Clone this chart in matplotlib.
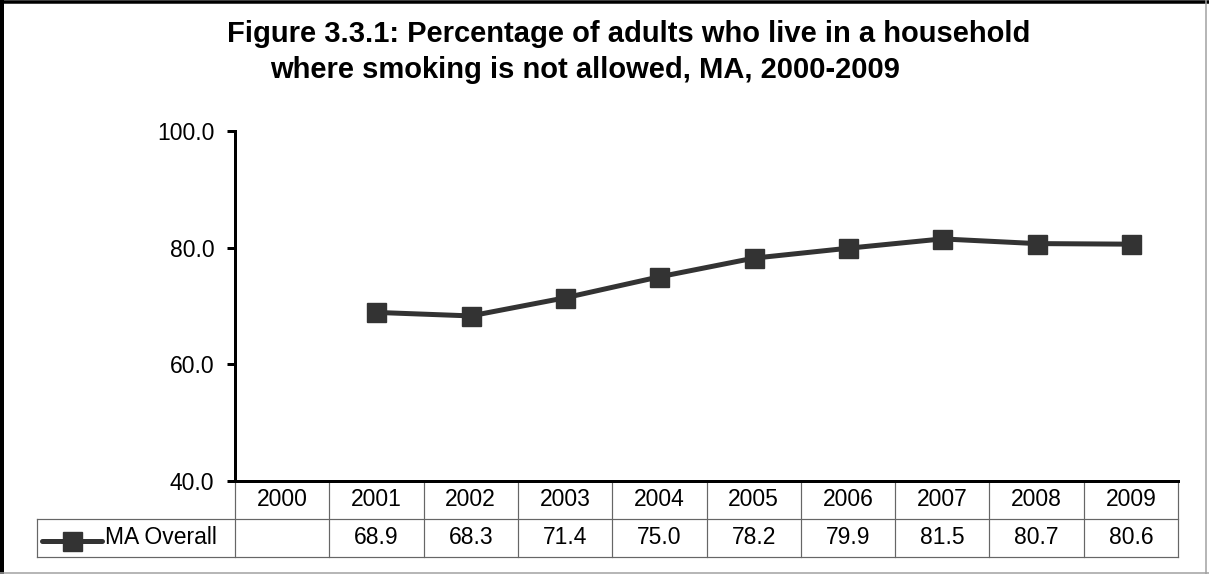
import matplotlib
matplotlib.use("Agg")
import matplotlib.pyplot as plt
from matplotlib.lines import Line2D
from matplotlib.transforms import blended_transform_factory

plt.rcParams['font.family'] = ['Liberation Sans', 'DejaVu Sans']

# Data
years = ["2000", "2001", "2002", "2003", "2004", "2005", "2006", "2007", "2008", "2009"]
ma_overall = [None, 68.9, 68.3, 71.4, 75.0, 78.2, 79.9, 81.5, 80.7, 80.6]
series_name = "MA Overall"
y_ticks = [40.0, 60.0, 80.0, 100.0]
title_line1 = "Figure 3.3.1: Percentage of adults who live in a household"
title_line2 = "where smoking is not allowed, MA, 2000-2009"

W, H = 1209, 574
fig = plt.figure(figsize=(W / 100, H / 100), dpi=100)
px = 72 / 100  # points per pixel

ax = fig.add_axes([235 / W, 1 - 481 / H, 943 / W, 350 / H])
ax.set_xlim(-0.5, len(years) - 0.5)
ax.set_ylim(40, 100)

for s in ("top", "right"):
    ax.spines[s].set_visible(False)
for s in ("left", "bottom"):
    ax.spines[s].set_linewidth(3 * px)
    ax.spines[s].set_color("black")

ax.set_yticks(y_ticks)
ax.set_yticklabels([f"{v:.1f}" for v in y_ticks])
ax.tick_params(axis="y", length=8 * px, width=3 * px, direction="out",
               pad=9, labelsize=16.5, colors="black")
ax.set_xticks([])

line_color = "#333333"
xs = [i for i, v in enumerate(ma_overall) if v is not None]
ys = [v for v in ma_overall if v is not None]
ax.plot(xs, ys, color=line_color, lw=5 * px, marker="s", ms=19 * px,
        mfc=line_color, mec=line_color, clip_on=False, zorder=5)

# Data table under the axis
tr = blended_transform_factory(ax.transData, ax.transAxes)
row_h = 38 / 350
y_mid = -row_h
y_bot = -2 * row_h
grid_color = "#666666"
grid_lw = 1.2 * px
col_w_px = 943 / len(years)
x_left = -0.5
x_right = len(years) - 0.5
x_leg = x_left + (37 - 235) / col_w_px

def tline(xd, yd):
    ax.add_line(Line2D(xd, yd, transform=tr, color=grid_color, lw=grid_lw,
                       clip_on=False))

for i in range(len(years) + 1):
    tline([x_left + i, x_left + i], [0, y_bot])
tline([x_leg, x_right], [y_mid, y_mid])
tline([x_leg, x_right], [y_bot, y_bot])
tline([x_leg, x_leg], [y_mid, y_bot])

for i, (yr, v) in enumerate(zip(years, ma_overall)):
    ax.text(i, -row_h / 2, yr, transform=tr, ha="center", va="center",
            fontsize=16.5, clip_on=False)
    if v is not None:
        ax.text(i, -1.5 * row_h, f"{v:.1f}", transform=tr, ha="center",
                va="center", fontsize=16.5, clip_on=False)

# Legend key inside the table
key_y = -(541 - 481) / 350
key_x0 = x_left + (42 - 235) / col_w_px
key_x1 = x_left + (102 - 235) / col_w_px
key_xm = x_left + (72.5 - 235) / col_w_px
ax.add_line(Line2D([key_x0, key_x1], [key_y, key_y], transform=tr,
                   color=line_color, lw=5 * px, solid_capstyle="round",
                   clip_on=False))
ax.add_line(Line2D([key_xm], [key_y], transform=tr, marker="s",
                   ms=19 * px, mfc=line_color, mec=line_color, lw=0,
                   clip_on=False))
ax.text(x_left + (105 - 235) / col_w_px, -1.5 * row_h, series_name,
        transform=tr, ha="left", va="center", fontsize=16.5, clip_on=False)

# Title
fig.text(629 / W, 1 - 42 / H, title_line1, ha="center", va="baseline",
         fontsize=21, fontweight="bold")
fig.text(585.5 / W, 1 - 78 / H, title_line2, ha="center", va="baseline",
         fontsize=21, fontweight="bold")

# Chart frame
fig.add_artist(Line2D([0, 1], [1 - 1.5 / H] * 2, transform=fig.transFigure,
                      color="black", lw=3.5 * px))
fig.add_artist(Line2D([2 / W] * 2, [0, 1], transform=fig.transFigure,
                      color="black", lw=4 * px))
fig.add_artist(Line2D([1205.5 / W] * 2, [0, 1], transform=fig.transFigure,
                      color="#a0a0a0", lw=1.5 * px))
fig.add_artist(Line2D([0, 1], [1.5 / H] * 2, transform=fig.transFigure,
                      color="#a0a0a0", lw=1.5 * px))

fig.savefig("out.png", dpi=100)
